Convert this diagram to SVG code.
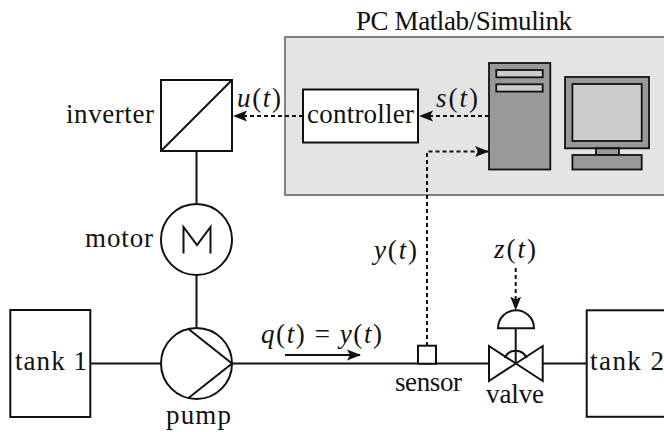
<svg xmlns="http://www.w3.org/2000/svg" width="664" height="432" viewBox="0 0 664 432">
<style>
.s{fill:none;stroke:#111;stroke-width:2}
.w{fill:#fff;stroke:#111;stroke-width:2}
.d{fill:#999;stroke:#111;stroke-width:1.8}
.l{fill:#ccc;stroke:#111;stroke-width:1.8}
.da{fill:none;stroke:#111;stroke-width:2;stroke-dasharray:4 3}
text{font-family:"Liberation Serif",serif;font-size:27px;fill:#111}
.m{font-style:italic}
</style>
<defs>
<marker id="a" viewBox="0 0 14 12" markerWidth="14" markerHeight="12" refX="13" refY="6" orient="auto" markerUnits="userSpaceOnUse"><path d="M0 0.5L14 6L0 11.5L3 6Z" fill="#111"/></marker>
</defs>
<g id="pc">
<rect x="285" y="37" width="385" height="158" fill="#e4e4e4" stroke="#666" stroke-width="1.6"/>
<text x="356" y="30" textLength="216" lengthAdjust="spacing">PC Matlab/Simulink</text>
</g>
<g id="connectors">
<path class="s" d="M196.500 151V204M196.500 275V328M90 363.500H161M232 363.500H489M542.700 363.500H587M515.700 328V363.500"/>
<path class="da" d="M303 116H234" marker-end="url(#a)"/>
<path class="da" d="M489 116H420" marker-end="url(#a)"/>
<path class="da" d="M427 346V151.500H488" marker-end="url(#a)"/>
<path class="da" d="M515.700 268V309.500" marker-end="url(#a)"/>
<path d="M285 355H360" fill="none" stroke="#111" stroke-width="1.800" marker-end="url(#a)"/>
</g>
<g id="inverter">
<rect class="w" x="161" y="80" width="71" height="71"/>
<path class="s" d="M161 151L232 80"/>
<text x="66" y="123" textLength="88" lengthAdjust="spacing">inverter</text>
</g>
<g id="controller">
<rect class="w" x="303" y="89.500" width="115" height="53"/>
<text x="307" y="123" textLength="107" lengthAdjust="spacing">controller</text>
</g>
<g id="tower">
<rect class="d" x="489" y="63" width="61.300" height="106.500"/>
<rect class="l" x="496.300" y="70" width="46.400" height="7.300"/>
<rect class="l" x="496.300" y="84.300" width="46.400" height="7.300"/>
</g>
<g id="monitor">
<rect class="d" x="565" y="77" width="84" height="71.300"/>
<rect class="l" x="572.400" y="84" width="69.300" height="57"/>
<rect class="d" x="596" y="148.300" width="23" height="6.700"/>
<rect class="d" x="572.400" y="155" width="69.300" height="14.500"/>
</g>
<g id="motor">
<circle class="w" cx="196.500" cy="239.500" r="35.500"/>
<path class="s" d="M183.500 253.500V227L197 245L210.500 227V253.500"/>
<text x="85" y="247" textLength="68" lengthAdjust="spacing">motor</text>
</g>
<g id="pump">
<circle class="w" cx="196.500" cy="363.500" r="35.500"/>
<path class="s" d="M188.500 329L232 363.500L188.500 398"/>
<text x="166" y="424" textLength="65" lengthAdjust="spacing">pump</text>
</g>
<g id="tank1">
<rect class="w" x="10.300" y="310" width="80" height="107"/>
<text x="15" y="370" textLength="72" lengthAdjust="spacing">tank 1</text>
</g>
<g id="tank2">
<rect class="w" x="586.700" y="310.300" width="90" height="106.500"/>
<text x="590" y="370" textLength="74" lengthAdjust="spacing">tank 2</text>
</g>
<g id="sensor">
<rect class="w" x="418" y="345.700" width="18" height="18"/>
<text x="395" y="391" textLength="67" lengthAdjust="spacing">sensor</text>
</g>
<g id="valve">
<path class="w" d="M489 346L542.700 381V346L489 381Z"/>
<path class="s" d="M504.700 358A12 12 0 0 1 526.700 358"/>
<path class="w" d="M498 328.300A18 18 0 0 1 534 328.300Z"/>
<text x="486" y="403" textLength="58" lengthAdjust="spacing">valve</text>
</g>
<g id="labels">
<text x="237" y="107" textLength="44" lengthAdjust="spacing"><tspan class="m">u</tspan>(<tspan class="m">t</tspan>)</text>
<text x="436" y="107" textLength="42" lengthAdjust="spacing"><tspan class="m">s</tspan>(<tspan class="m">t</tspan>)</text>
<text x="374" y="259" textLength="43" lengthAdjust="spacing"><tspan class="m">y</tspan>(<tspan class="m">t</tspan>)</text>
<text x="494" y="258" textLength="42" lengthAdjust="spacing"><tspan class="m">z</tspan>(<tspan class="m">t</tspan>)</text>
<text x="261" y="343" textLength="121" lengthAdjust="spacing"><tspan class="m">q</tspan>(<tspan class="m">t</tspan>) = <tspan class="m">y</tspan>(<tspan class="m">t</tspan>)</text>
</g>
</svg>
